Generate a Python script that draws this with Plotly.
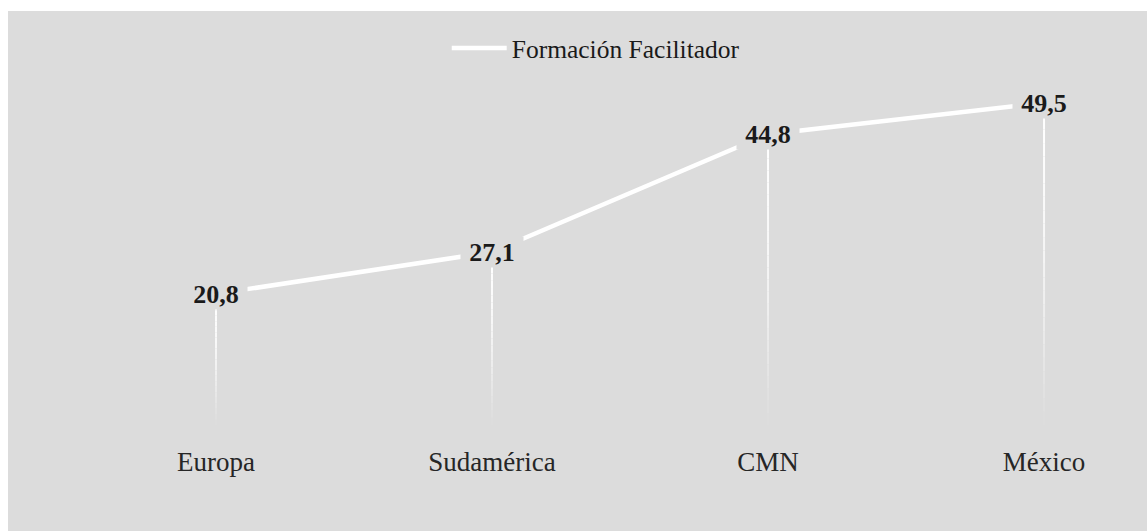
import plotly.graph_objects as go

# Regional values for "Formación Facilitador"
regions = ["Europa", "Sudamérica", "CMN", "México"]
facilitador = [20.8, 27.1, 44.8, 49.5]
series_name = "Formación Facilitador"

PANEL = "#dcdcdc"
SERIF = "Liberation Serif, DejaVu Serif, serif"
Y_MIN, Y_MAX = 1.1, 63.3


def fmt(v):
    return f"{v:.1f}".replace(".", ",")


fig = go.Figure()

# Fading drop lines from each point to the bottom of the axis
steps = 24
for cat, val in zip(regions, facilitador):
    for i in range(steps):
        t0 = i / steps
        t1 = (i + 1) / steps
        y_top = val - (val - Y_MIN) * t0
        y_bot = val - (val - Y_MIN) * t1
        fade = max(0.0, 1.0 - ((t0 + t1) / 2) ** 1.6)
        c = int(220 + (255 - 220) * fade)
        fig.add_shape(
            type="line", xref="x", yref="y",
            x0=cat, x1=cat, y0=y_top, y1=y_bot,
            line=dict(color=f"rgb({c},{c},{c})", width=2),
            layer="below",
        )

fig.add_trace(go.Scatter(
    x=regions, y=facilitador, mode="lines", name=series_name,
    line=dict(color="white", width=4.5),
    showlegend=True, hoverinfo="skip",
))

# Value labels sitting on the points, masking the line beneath
for cat, val in zip(regions, facilitador):
    fig.add_annotation(
        x=cat, y=val, xref="x", yref="y", text=f"<b>{fmt(val)}</b>",
        showarrow=False, bgcolor=PANEL, borderpad=0, width=62, height=30,
        font=dict(family=SERIF, size=26, color="#1a1a1a"),
    )

# Grey panel behind everything
fig.add_shape(type="rect", xref="paper", yref="paper", x0=0, x1=1, y0=0, y1=1,
              fillcolor=PANEL, line=dict(width=0), layer="below")

fig.update_layout(
    width=1147, height=531,
    margin=dict(l=8, r=0, t=11, b=0),
    paper_bgcolor="white", plot_bgcolor=PANEL,
    showlegend=True,
    legend=dict(orientation="h", x=0.516, xanchor="center", y=0.928, yanchor="middle",
                font=dict(family=SERIF, size=25.5, color="#1a1a1a"),
                bgcolor="rgba(0,0,0,0)", itemwidth=55),
    xaxis=dict(type="category", range=[-0.7536, 3.373], showgrid=False, zeroline=False,
               showline=False, ticks="", ticklabelstandoff=18,
               tickfont=dict(family=SERIF, size=27, color="#262626")),
    yaxis=dict(range=[Y_MIN, Y_MAX], domain=[0.2038, 1], showgrid=False, zeroline=False,
               showline=False, showticklabels=False, ticks=""),
)

fig.write_html("out.html")
